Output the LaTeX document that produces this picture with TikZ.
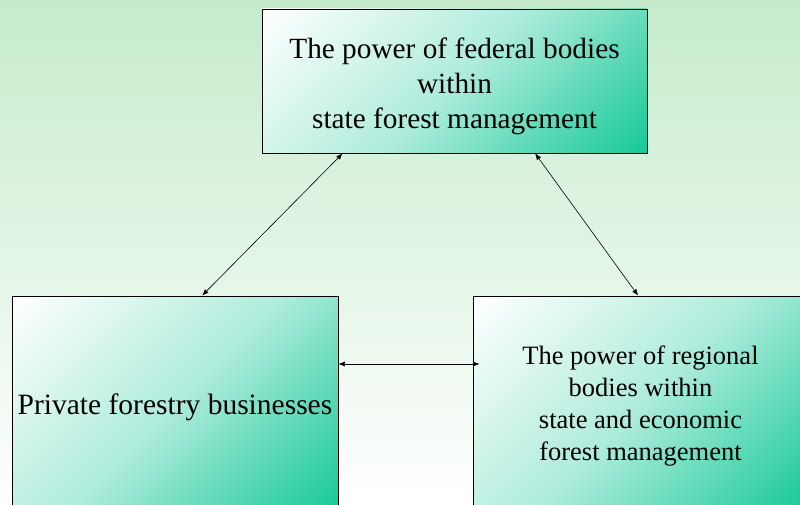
\documentclass[tikz,border=0pt]{standalone}
\usepackage{fontspec}
\setmainfont{Liberation Serif}
\usetikzlibrary{arrows.meta,calc}
\definecolor{bgtop}{RGB}{197,235,204}
\definecolor{boxteal}{RGB}{24,201,152}
\pgfdeclareverticalshading{boxfade}{100bp}{color(0bp)=(boxteal); color(15bp)=(boxteal); color(50bp)=(boxteal!35); color(85bp)=(white); color(100bp)=(white)}

\begin{document}
\begin{tikzpicture}[x=1pt,y=-1pt,
  box/.style={draw,line width=0.8pt,shading=boxfade,shading angle=45,align=center,inner sep=0pt},
  link/.style={<->,>={Latex[length=6.5pt,width=5pt]},line width=0.6pt}]
\clip (0,0) rectangle (800,505);
\shade [top color=bgtop,bottom color=white] (0,0) rectangle (800,505);
% the three bodies
\node [box,minimum width=385pt,minimum height=144pt,font=\fontsize{29.3}{35}\selectfont] (federal) at (454.5,81)
  {\rule{0pt}{31pt}The power of federal bodies\\within\\state forest management};
\node [box,minimum width=326pt,minimum height=216pt,font=\fontsize{29.5}{32}\selectfont] (private) at (175,404)
  {\rule{0pt}{27pt}Private forestry businesses};
\node [box,minimum width=335pt,minimum height=216pt,font=\fontsize{26.5}{32}\selectfont] (regional) at (640.5,404)
  {\rule{0pt}{22pt}The power of regional\\bodies within\\state and economic\\forest management};
% links
\draw [link] ($(federal.south west)!0.21!(federal.south east)$) -- ($(private.north west)!0.583!(private.north east)$);
\draw [link] ($(federal.south west)!0.709!(federal.south east)$) -- ($(regional.north west)!0.493!(regional.north east)$);
\draw [link] ([yshift=40pt]private.east) -- ([yshift=40pt,xshift=7pt]regional.west);
\end{tikzpicture}
\end{document}
